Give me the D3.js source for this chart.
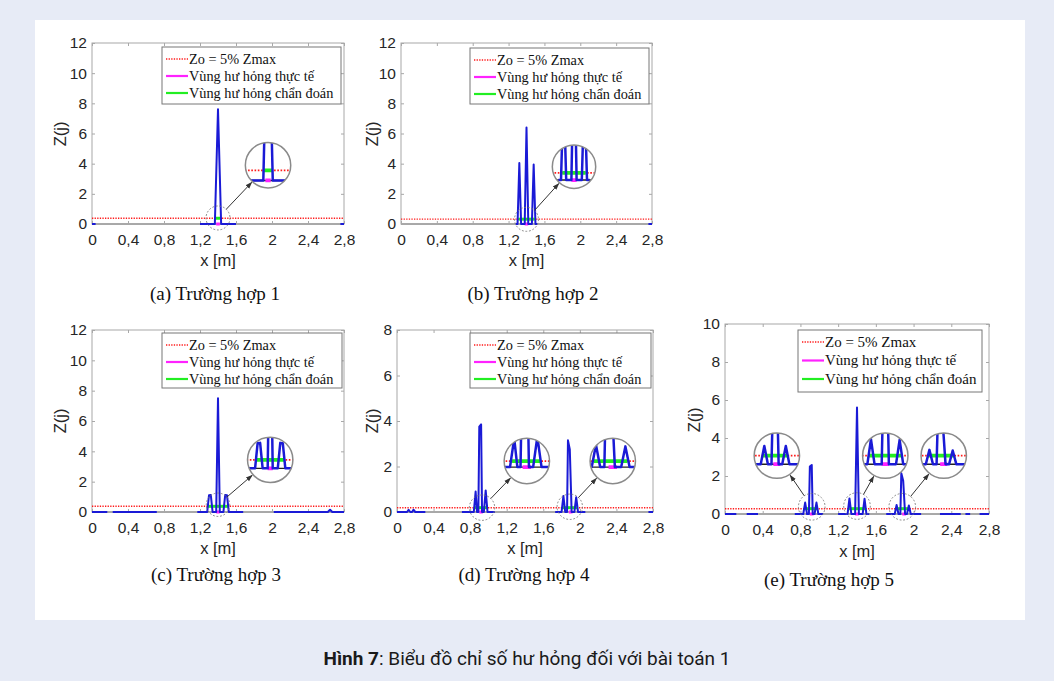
<!DOCTYPE html>
<html><head><meta charset="utf-8">
<script src="https://cdn.jsdelivr.net/npm/d3@7"></script>
<style>
body{margin:0;background:#e7ebf6;}
svg{display:block}
</style></head><body>
<svg id="c" width="1054" height="681"></svg>
<script>
// ---------------- DATA ----------------
const xTicks = [0, 0.4, 0.8, 1.2, 1.6, 2, 2.4, 2.8];
const xTickLabels = ["0", "0,4", "0,8", "1,2", "1,6", "2", "2,4", "2,8"];
const legendLabels = ["Zo = 5% Zmax", "Vùng hư hỏng thực tế", "Vùng hư hỏng chẩn đoán"];
const captions = ["(a) Trường hợp 1", "(b) Trường hợp 2", "(c) Trường hợp 3", "(d) Trường hợp 4", "(e) Trường hợp 5"];
const figureTitleBold = "Hình 7";
const figureTitleRest = ": Biểu đồ chỉ số hư hỏng đối với bài toán 1";
const yMaxes = [12, 12, 12, 8, 10];
const thresholds = [0.38, 0.32, 0.375, 0.19, 0.28];

// damage index Z(j) vs x [m]; null = gap in the drawn line
const curveA = [[0,0],[0.04,0],null,[1.2,0],[1.365,0],[1.40,7.6],[1.435,0],[1.6,0],null,[2.76,0],[2.8,0]];
const curveB = [[1.28,0],[1.30,0],[1.32,4.05],[1.34,0],[1.38,0],[1.40,6.4],[1.42,0],[1.46,0],[1.48,3.95],[1.50,0],[1.52,0],null,[2.76,0],[2.8,0]];
const curveC = [[0,0],[0.17,0],null,[0.23,0],[0.72,0],null,[1.17,0],[1.28,0],[1.30,1.1],[1.32,1.12],[1.34,0],[1.38,0],[1.40,7.5],[1.42,0],[1.46,0],[1.48,1.12],[1.50,1.1],[1.52,0],[1.68,0],null,[2.02,0],[2.62,0],[2.645,0.15],[2.67,0],[2.8,0]];
const curveD = [[0,0],[0.11,0],[0.127,0.1],[0.145,0],[0.165,0],[0.18,0.1],[0.2,0],[0.31,0],null,[0.71,0],[0.84,0],[0.86,0.9],[0.875,0],[0.89,0],[0.90,3.75],[0.92,3.85],[0.93,0],[0.95,0],[0.97,0.95],[0.99,0],[1.07,0],null,[1.73,0],[1.80,0],[1.82,0.7],[1.84,0],[1.86,0],[1.87,3.15],[1.89,2.75],[1.91,0],[1.94,0],[1.96,0.65],[1.98,0],[2.06,0],null,[2.75,0],[2.8,0]];
const curveE = [[0,0],[0.12,0],null,[0.23,0],[0.35,0],null,[0.74,0],[0.83,0],[0.85,0.6],[0.87,0],[0.89,0],[0.90,2.5],[0.92,2.58],[0.93,0],[0.95,0],[0.97,0.6],[0.99,0],[1.04,0],null,[1.2,0],[1.30,0],[1.32,0.82],[1.34,0],[1.38,0],[1.40,5.6],[1.42,0],[1.46,0],[1.48,0.8],[1.50,0],[1.53,0],null,[1.71,0],[1.80,0],[1.82,0.47],[1.84,0],[1.86,0],[1.87,2.14],[1.89,1.75],[1.91,0],[1.93,0],[1.95,0.45],[1.97,0],[2.08,0],null,[2.28,0],[2.5,0],null,[2.55,0],[2.6,0],null,[2.7,0],[2.8,0]];

// actual damaged zones (magenta, at Z=0) and diagnosed zones (green, at Zo)
const realA = [[1.38,1.42]], diagA = [[1.37,1.43]];
const realB = [[1.38,1.42]], diagB = [[1.31,1.49]];
const realC = [[1.38,1.42]], diagC = [[1.29,1.51]];
const realD = [[0.90,0.94],[1.88,1.92]], diagD = [[0.85,0.985],[1.81,1.97]];
const realE = [[0.90,0.94],[1.38,1.42],[1.88,1.92]], diagE = [[0.84,0.98],[1.31,1.49],[1.81,1.96]];

// zoom callouts in data units: small circle (cx,cy), inset centre (ix,iy), viewed point (vx,vy)
const spotsA = [{cx:1.40, cy:0.40, ix:1.956, iy:3.9, vx:1.40, vy:0.58}];
const spotsB = [{cx:1.40, cy:0.31, ix:1.93, iy:3.8, vx:1.40, vy:0.59}];
const spotsC = [{cx:1.40, cy:0.48, ix:1.98, iy:3.44, vx:1.40, vy:0.375}];
const spotsD = [{cx:0.93, cy:0.19, ix:1.42, iy:2.24, vx:0.92, vy:0.19},{cx:1.89, cy:0.23, ix:2.36, iy:2.24, vx:1.90, vy:0.19}];
const spotsE = [{cx:0.92, cy:0.38, ix:0.55, iy:3.07, vx:0.92, vy:0.28},{cx:1.40, cy:0.42, ix:1.70, iy:3.07, vx:1.40, vy:0.28},{cx:1.88, cy:0.38, ix:2.32, iy:3.07, vx:1.90, vy:0.28}];

// ---------------- LAYOUT / STYLE ----------------
const layouts = [
  {l:92,  t:43,  r:344, b:224, leg:{x:162,y:47,w:179,h:57,fs:14.3,row:17}, cap:[215,300], xlab:266, tick:245, ylab:[60,134],  kx:1.5, ky:1.75, r0:12,   R:22.7},
  {l:401, t:43,  r:652, b:224, leg:{x:470,y:48,w:179,h:56,fs:14.3,row:17}, cap:[533,300], xlab:266, tick:245, ylab:[372,134], kx:1.45,ky:1.5,  r0:12,   R:21.7},
  {l:92,  t:330, r:344, b:512, leg:{x:162,y:333,w:180,h:55,fs:14.3,row:17},cap:[216,581], xlab:554, tick:533, ylab:[60,421],  kx:1.4, ky:1.5,  r0:11.7, R:22.7},
  {l:397, t:330, r:653, b:512, leg:{x:470,y:333,w:181,h:55,fs:14.3,row:17},cap:[524,581], xlab:554, tick:533, ylab:[372,421], kx:2.3, ky:1.4,  r0:12.7, R:22.7},
  {l:725, t:324, r:989, b:514, leg:{x:798,y:330,w:184,h:62,fs:15,row:18.5},cap:[829,586],xlab:557, tick:535, ylab:[694,420], kx:1.9, ky:1.6,  r0:13.3, R:22.7}
];
const C = {blue:"#1a1ad6", red:"#ff1a1a", mag:"#ff22ff", green:"#22ee22", axis:"#a8a8a8", text:"#262626"};
const SANS = "'Liberation Sans', Arial, sans-serif";
const SERIF = "'Liberation Serif', 'Times New Roman', serif";

const panels = [
  {curve:curveA, real:realA, diag:diagA, spots:spotsA},
  {curve:curveB, real:realB, diag:diagB, spots:spotsB},
  {curve:curveC, real:realC, diag:diagC, spots:spotsC},
  {curve:curveD, real:realD, diag:diagD, spots:spotsD},
  {curve:curveE, real:realE, diag:diagE, spots:spotsE}
].map((p, i) => Object.assign(p, {ymax:yMaxes[i], thr:thresholds[i], caption:captions[i], L:layouts[i]}));

// ---------------- DRAW ----------------
const W = 1054, H = 681;
const svg = d3.select("#c");
svg.append("rect").attr("width", W).attr("height", H).attr("fill", "#e7ebf6");
svg.append("rect").attr("x", 35).attr("y", 20).attr("width", 990).attr("height", 600).attr("fill", "#fff");

const defs = svg.append("defs");
defs.append("marker").attr("id", "arr").attr("viewBox", "0 0 10 10")
  .attr("refX", 9).attr("refY", 5).attr("markerWidth", 7).attr("markerHeight", 7)
  .attr("orient", "auto").append("path").attr("d", "M0,1.5L10,5L0,8.5Z").attr("fill", "#333");

function drawContent(g, p, sx, sy, widthScale) {
  const ws = widthScale || 1;
  const [x0, x1] = sx.range();
  g.append("line").attr("x1", x0).attr("x2", x1).attr("y1", sy(p.thr)).attr("y2", sy(p.thr))
    .attr("stroke", C.red).attr("stroke-width", 1.4 * ws).attr("stroke-dasharray", `${1.3*ws},${1.3*ws}`);
  g.selectAll(null).data(p.real).join("line")
    .attr("x1", d => sx(d[0])).attr("x2", d => sx(d[1])).attr("y1", sy(0)).attr("y2", sy(0))
    .attr("stroke", C.mag).attr("stroke-width", 3 * ws);
  g.selectAll(null).data(p.diag).join("line")
    .attr("x1", d => sx(d[0])).attr("x2", d => sx(d[1])).attr("y1", sy(p.thr)).attr("y2", sy(p.thr))
    .attr("stroke", C.green).attr("stroke-width", 3 * ws);
  const line = d3.line().defined(d => d !== null).x(d => sx(d[0])).y(d => sy(d[1]));
  g.append("path").attr("d", line(p.curve)).attr("fill", "none")
    .attr("stroke", C.blue).attr("stroke-width", 2 * ws).attr("stroke-linejoin", "round");
}

panels.forEach((p, pi) => {
  const L = p.L;
  const sx = d3.scaleLinear().domain([0, 2.8]).range([L.l, L.r]);
  const sy = d3.scaleLinear().domain([0, p.ymax]).range([L.b, L.t]);
  const g = svg.append("g");

  g.append("line").attr("x1", L.l).attr("x2", L.r).attr("y1", L.b).attr("y2", L.b).attr("stroke", "#555").attr("stroke-width", 1);
  g.append("rect").attr("x", L.l).attr("y", L.t).attr("width", L.r - L.l).attr("height", L.b - L.t)
    .attr("fill", "none").attr("stroke", C.axis).attr("stroke-width", 1);

  const yTicks = d3.range(0, p.ymax + 0.001, 2);
  const axB = g.append("g").attr("transform", `translate(0,${L.b})`)
    .call(d3.axisBottom(sx).tickValues(xTicks).tickFormat((d, i) => xTickLabels[i]).tickSizeInner(-3).tickSizeOuter(0).tickPadding(0));
  const axT = g.append("g").attr("transform", `translate(0,${L.t})`)
    .call(d3.axisTop(sx).tickValues(xTicks).tickFormat("").tickSizeInner(-3).tickSizeOuter(0));
  const axL = g.append("g").attr("transform", `translate(${L.l},0)`)
    .call(d3.axisLeft(sy).tickValues(yTicks).tickFormat(d => String(d)).tickSizeInner(-3).tickSizeOuter(0).tickPadding(5));
  const axR = g.append("g").attr("transform", `translate(${L.r},0)`)
    .call(d3.axisRight(sy).tickValues(yTicks).tickFormat("").tickSizeInner(-3).tickSizeOuter(0));
  [axB, axT, axL, axR].forEach(a => {
    a.select(".domain").remove();
    a.selectAll(".tick line").attr("stroke", C.axis);
  });
  axB.selectAll(".tick text").attr("dy", null)
    .attr("y", L.tick - L.b).attr("font-family", SANS).attr("font-size", 15.5).attr("fill", C.text);
  axL.selectAll(".tick text").attr("font-family", SANS).attr("font-size", 15.5).attr("fill", C.text);

  g.append("text").attr("x", (L.l + L.r) / 2).attr("y", L.xlab).attr("text-anchor", "middle")
    .attr("font-family", SANS).attr("font-size", 16.5).attr("fill", C.text).text("x [m]");
  g.append("text").attr("transform", `translate(${L.ylab[0]},${L.ylab[1]}) rotate(-90)`)
    .attr("text-anchor", "middle").attr("dy", "0.35em")
    .attr("font-family", SANS).attr("font-size", 16.5).attr("fill", C.text).text("Z(j)");

  drawContent(g, p, sx, sy, 1);

  p.spots.forEach((s, si) => {
    const scx = sx(s.cx), scy = sy(s.cy);
    const icx = sx(s.ix), icy = sy(s.iy);
    g.append("circle").attr("cx", scx).attr("cy", scy).attr("r", L.r0)
      .attr("fill", "none").attr("stroke", "#777").attr("stroke-width", 0.9).attr("stroke-dasharray", "1.8,1.8");
    const dx = icx - scx, dy = icy - scy, dl = Math.hypot(dx, dy);
    const ux = dx / dl, uy = dy / dl;
    g.append("line").attr("x1", scx + ux * L.r0).attr("y1", scy + uy * L.r0)
      .attr("x2", icx - ux * (L.R + 1)).attr("y2", icy - uy * (L.R + 1))
      .attr("stroke", "#333").attr("stroke-width", 1).attr("marker-end", "url(#arr)");
    const vpx = sx(s.vx), vpy = sy(s.vy);
    const isx = d3.scaleLinear().domain(sx.domain()).range(sx.range().map(v => icx + L.kx * (v - vpx)));
    const isy = d3.scaleLinear().domain(sy.domain()).range(sy.range().map(v => icy + L.ky * (v - vpy)));
    const cid = `clip${pi}_${si}`;
    defs.append("clipPath").attr("id", cid).append("circle").attr("cx", icx).attr("cy", icy).attr("r", L.R);
    const ig = g.append("g").attr("clip-path", `url(#${cid})`);
    ig.append("circle").attr("cx", icx).attr("cy", icy).attr("r", L.R).attr("fill", "#fff");
    ig.append("line").attr("x1", icx - L.R).attr("x2", icx + L.R).attr("y1", isy(0)).attr("y2", isy(0))
      .attr("stroke", "#222").attr("stroke-width", 1.4);
    drawContent(ig, p, isx, isy, 1.25);
    g.append("circle").attr("cx", icx).attr("cy", icy).attr("r", L.R)
      .attr("fill", "none").attr("stroke", "#8a8a8a").attr("stroke-width", 1.5);
  });

  const lg = L.leg;
  const leg = g.append("g").attr("transform", `translate(${lg.x},${lg.y})`);
  leg.append("rect").attr("width", lg.w).attr("height", lg.h).attr("fill", "#fff").attr("stroke", "#777").attr("stroke-width", 1);
  const legStyles = [
    {stroke: C.red, w: 1.3, dash: "1.3,1.3"},
    {stroke: C.mag, w: 2.2, dash: null},
    {stroke: C.green, w: 2.2, dash: null}
  ];
  legendLabels.forEach((t, i) => {
    const yy = 12 + i * lg.row;
    leg.append("line").attr("x1", 4).attr("x2", 26).attr("y1", yy).attr("y2", yy)
      .attr("stroke", legStyles[i].stroke).attr("stroke-width", legStyles[i].w)
      .attr("stroke-dasharray", legStyles[i].dash);
    leg.append("text").attr("x", 27).attr("y", yy).attr("dy", "0.33em")
      .attr("font-family", SERIF).attr("font-size", lg.fs).attr("fill", "#111").text(t);
  });

  g.append("text").attr("x", L.cap[0]).attr("y", L.cap[1]).attr("text-anchor", "middle")
    .attr("font-family", SERIF).attr("font-size", 19).attr("fill", "#111").text(p.caption);
});

const ft = svg.append("text").attr("x", 527).attr("y", 665).attr("text-anchor", "middle")
  .attr("font-family", "Roboto, 'Noto Sans', sans-serif").attr("font-size", 19).attr("fill", "#1a1a1a");
ft.append("tspan").attr("font-weight", "bold").text(figureTitleBold);
ft.append("tspan").text(figureTitleRest);
</script>
</body></html>
